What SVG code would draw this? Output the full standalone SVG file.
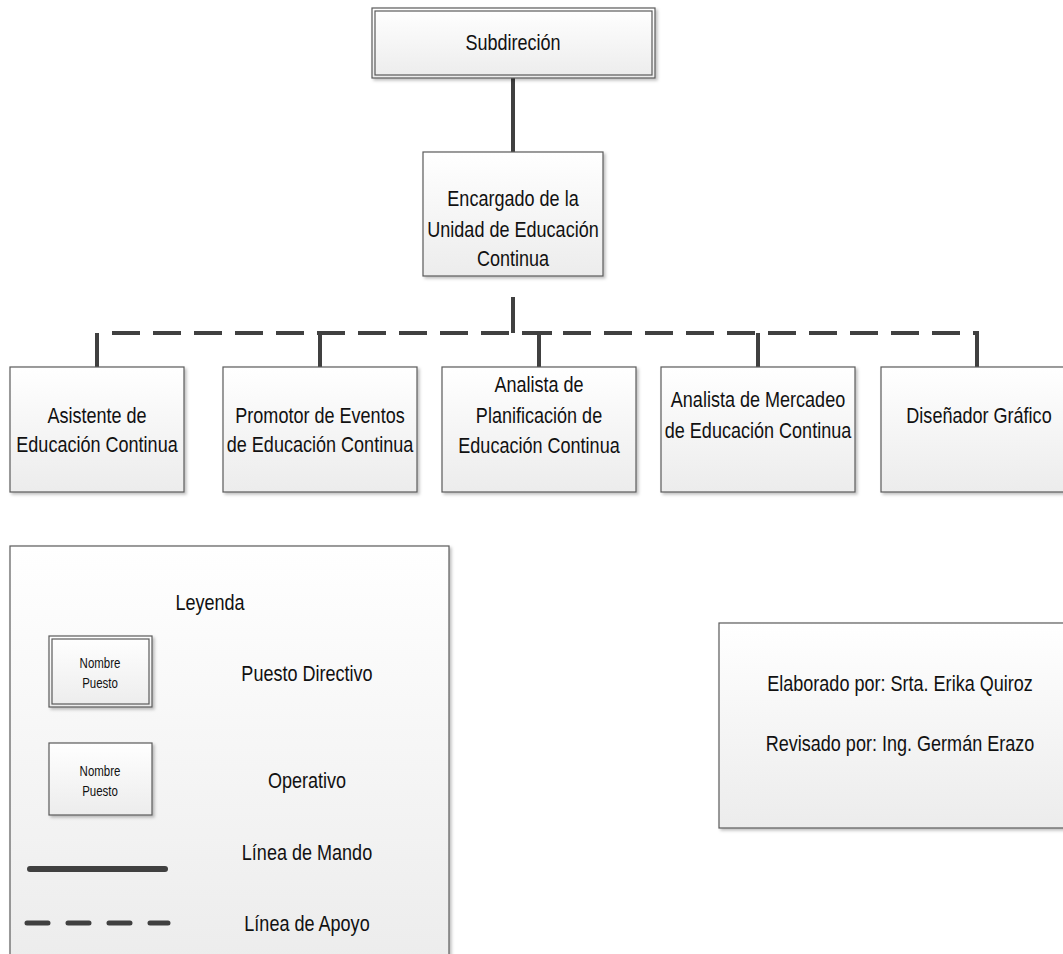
<svg xmlns="http://www.w3.org/2000/svg" width="1063" height="954" viewBox="0 0 1063 954">
<defs>
<linearGradient id="g" x1="0" y1="0" x2="0" y2="1">
<stop offset="0" stop-color="#ffffff"/>
<stop offset="1" stop-color="#ececec"/>
</linearGradient>
<filter id="sh" x="-5%" y="-5%" width="115%" height="115%">
<feDropShadow dx="2" dy="2" stdDeviation="1.5" flood-color="#000" flood-opacity="0.25"/>
</filter>
</defs>
<style>
.box{fill:url(#g);stroke:#5a5a5a;stroke-width:1.2;filter:url(#sh)}
.inner{fill:none;stroke:#5a5a5a;stroke-width:1.2}
.t{font-family:"Liberation Sans",Arial,sans-serif;font-size:22px;fill:#111;text-anchor:middle;dominant-baseline:central}
.s{font-family:"Liberation Sans",Arial,sans-serif;font-size:14px;fill:#111;text-anchor:middle;dominant-baseline:central}
.solid{stroke:#404040;stroke-width:4;fill:none}
.dash{stroke:#404040;stroke-width:4;fill:none;stroke-dasharray:28 13}
</style>
<rect x="0" y="0" width="1063" height="954" fill="#fff"/>

<g id="connectors">
<line class="solid" x1="513" y1="78" x2="513" y2="152"/>
<line class="solid" x1="513" y1="297" x2="513" y2="333"/>
<line class="dash" x1="112" y1="333" x2="976" y2="333"/>
<line class="solid" x1="97" y1="333" x2="97" y2="367"/>
<line class="solid" x1="318" y1="333" x2="343" y2="333"/>
<line class="solid" x1="320" y1="333" x2="320" y2="367"/>
<line class="solid" x1="527" y1="333" x2="552" y2="333"/>
<line class="solid" x1="539" y1="333" x2="539" y2="367"/>
<line class="solid" x1="758" y1="333" x2="758" y2="367"/>
<line class="solid" x1="977" y1="331" x2="977" y2="367"/>
</g>

<g id="subdireccion">
<rect class="box" x="372" y="8" width="283" height="70"/>
<rect class="inner" x="375" y="11" width="277" height="64"/>
<text class="t" transform="translate(513,42) scale(0.82,1)">Subdireción</text>
</g>

<g id="encargado">
<rect class="box" x="423" y="152" width="180" height="124"/>
<text class="t" transform="translate(513,198) scale(0.82,1)">Encargado de la</text>
<text class="t" transform="translate(513,229) scale(0.82,1)">Unidad de Educación</text>
<text class="t" transform="translate(513,258) scale(0.82,1)">Continua</text>
</g>

<g id="asistente">
<rect class="box" x="10" y="367" width="174" height="125"/>
<text class="t" transform="translate(97,415) scale(0.82,1)">Asistente de</text>
<text class="t" transform="translate(97,444) scale(0.82,1)">Educación Continua</text>
</g>

<g id="promotor">
<rect class="box" x="223" y="367" width="194" height="125"/>
<text class="t" transform="translate(320,415) scale(0.82,1)">Promotor de Eventos</text>
<text class="t" transform="translate(320,444) scale(0.82,1)">de Educación Continua</text>
</g>

<g id="analista-planificacion">
<rect class="box" x="442" y="367" width="194" height="125"/>
<text class="t" transform="translate(539,384) scale(0.82,1)">Analista de</text>
<text class="t" transform="translate(539,415) scale(0.82,1)">Planificación de</text>
<text class="t" transform="translate(539,445) scale(0.82,1)">Educación Continua</text>
</g>

<g id="analista-mercadeo">
<rect class="box" x="661" y="367" width="194" height="125"/>
<text class="t" transform="translate(758,399) scale(0.82,1)">Analista de Mercadeo</text>
<text class="t" transform="translate(758,430) scale(0.82,1)">de Educación Continua</text>
</g>

<g id="disenador">
<rect class="box" x="881" y="367" width="194" height="125"/>
<text class="t" transform="translate(979,415) scale(0.82,1)">Diseñador Gráfico</text>
</g>

<g id="leyenda">
<rect class="box" x="10" y="546" width="439" height="420"/>
<text class="t" transform="translate(210,602) scale(0.82,1)">Leyenda</text>
<rect class="box" x="49" y="636" width="103" height="71"/>
<rect class="inner" x="52" y="639" width="97" height="65"/>
<text class="s" transform="translate(100,663) scale(0.82,1)">Nombre</text>
<text class="s" transform="translate(100,683) scale(0.82,1)">Puesto</text>
<text class="t" transform="translate(307,673) scale(0.82,1)">Puesto Directivo</text>
<rect class="box" x="49" y="743" width="103" height="72"/>
<text class="s" transform="translate(100,771) scale(0.82,1)">Nombre</text>
<text class="s" transform="translate(100,791) scale(0.82,1)">Puesto</text>
<text class="t" transform="translate(307,780) scale(0.82,1)">Operativo</text>
<text class="t" transform="translate(307,852) scale(0.82,1)">Línea de Mando</text>
<line x1="30" y1="869" x2="165" y2="869" stroke="#404040" stroke-width="6" stroke-linecap="round"/>
<text class="t" transform="translate(307,923) scale(0.82,1)">Línea de Apoyo</text>
<line x1="27" y1="923" x2="168" y2="923" stroke="#404040" stroke-width="5" stroke-linecap="round" stroke-dasharray="21 20"/>
</g>

<g id="elaborado">
<rect class="box" x="719" y="623" width="360" height="205"/>
<text class="t" transform="translate(900,683) scale(0.82,1)">Elaborado por: Srta. Erika Quiroz</text>
<text class="t" transform="translate(900,743) scale(0.82,1)">Revisado por: Ing. Germán Erazo</text>
</g>
</svg>
